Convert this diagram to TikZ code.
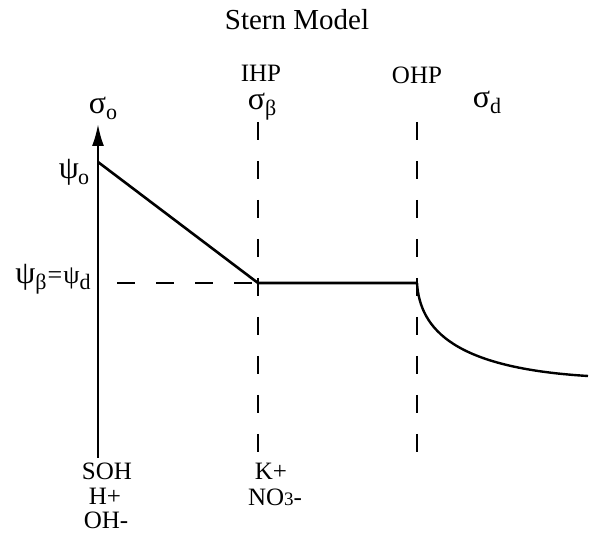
\documentclass[tikz,border=0pt]{standalone}
\usepackage{fontspec}
\setmainfont{Liberation Serif}
\usetikzlibrary{arrows.meta}
\tikzset{
  lbl/.style={font=\fontsize{25}{27}\selectfont, inner sep=0pt, anchor=center},
  grk/.style={font=\fontsize{32}{33}\selectfont, inner sep=0pt, anchor=center},
  solidline/.style={line width=2.6pt, line cap=butt},
  dashline/.style={line width=2pt, dash pattern=on 18pt off 21pt},
}
\newcommand{\sbx}[1]{\raisebox{-6pt}{\fontsize{22}{22}\selectfont #1}}
\begin{document}
\begin{tikzpicture}[x=1pt,y=-1pt]
\useasboundingbox (0,0) rectangle (590,534);
% coordinates
\coordinate (axb) at (98,458);
\coordinate (axt) at (98,124);
\coordinate (p0) at (98,162);
\coordinate (pb) at (258,283);
\coordinate (pd) at (417,283);
\coordinate (pe) at (588,376);
\coordinate (hl) at (117,283);
\coordinate (it) at (258,122);
\coordinate (ib) at (258,458);
\coordinate (ot) at (417,122);
\coordinate (ob) at (417,458);
% title
\node[lbl, font=\fontsize{29}{31}\selectfont] (title) at (297,20) {Stern Model};
% axis
\draw[line width=2.4pt, -{Latex[length=22pt,width=12pt]}] (axb) -- (axt);
% dashed lines
\draw[dashline] (hl) -- (pb);
\draw[dashline] (it) -- (ib);
\draw[dashline] (ot) -- (ob);
% potential profile
\draw[solidline] (p0) -- (pb) -- (pd);
\draw[line width=2.4pt] (pd) .. controls (420,330) and (455,368) .. (pe);
% labels
\node[grk] (so) at (103,108) {σ\sbx{o}};
\node[grk] (psi0) at (74,172) {ψ\kern-1pt\sbx{o}};
\node[grk] (psibd) at (53,279) {ψ\sbx{β}\kern1pt\fontsize{26}{26}\selectfont=\kern1pt ψ\sbx{d}};
\node[lbl] (ihp) at (261,73) {IHP};
\node[grk] (sb) at (262,107) {σ\sbx{β}};
\node[lbl] (ohp) at (417,75) {OHP};
\node[grk] (sd) at (487,102) {σ\sbx{d}};
\node[lbl] (soh) at (107,471) {SOH};
\node[lbl] (hp) at (105,496) {H+};
\node[lbl] (ohm) at (106,520) {OH-};
\node[lbl] (kp) at (271,471) {K+};
\node[lbl] (no3) at (275,497) {NO\kern0pt{\fontsize{19}{19}\selectfont 3}-};
\end{tikzpicture}
\end{document}
